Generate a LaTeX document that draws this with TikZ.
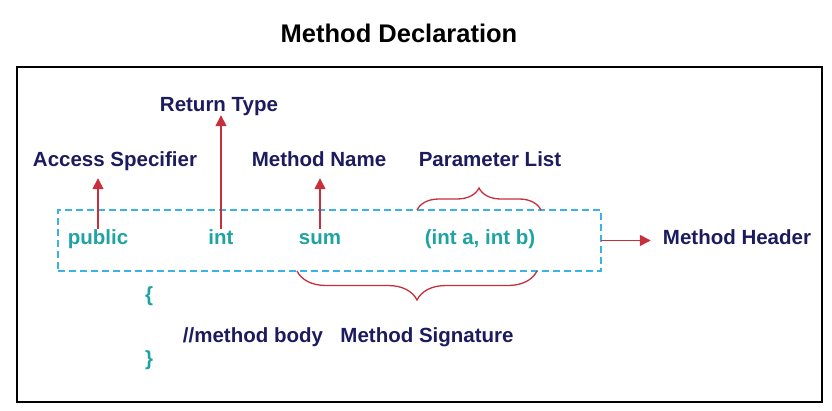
\documentclass[tikz,border=0pt]{standalone}
\usepackage{fontspec}
\setmainfont{Liberation Sans}
\usetikzlibrary{arrows.meta, decorations.pathreplacing, calc}
\definecolor{navy}{HTML}{1B1B5E}
\definecolor{arrred}{HTML}{C62F3B}
\definecolor{sky}{HTML}{3AB3E4}
\definecolor{codeteal}{HTML}{1FA3A2}

\begin{document}
\begin{tikzpicture}[x=1pt, y=-1pt, font=\bfseries\fontsize{20.5}{24}\selectfont,
	lbl/.style={text=navy, inner sep=1pt, text height=15pt, text depth=5pt, anchor=base},
	code/.style={lbl, text=codeteal},
	redarrow/.style={draw=arrred, line width=1.6pt, -{Triangle[length=11pt, width=11pt]}},
	redbrace/.style={draw=arrred, line width=1.3pt, decorate, decoration={brace, amplitude=#1}}]
	\def\boxL{58}
	\def\boxR{601}
	\def\boxT{210}
	\def\boxB{271}

	\useasboundingbox		(0,0) rectangle (832,411);
	\node[anchor=base, font=\bfseries\fontsize{25.5}{30}\selectfont]	(title) at (399,43) {Method Declaration};
	\draw[line width=2.2pt]	(17,67) rectangle (822,402);

	\node[draw=sky, line width=2.6pt, dash pattern=on 7pt off 4pt, inner sep=0pt, outer sep=0pt,
		minimum width=\boxR-\boxL, minimum height=\boxB-\boxT]	(hdr) at ({(\boxL+\boxR)/2},{(\boxT+\boxB)/2}) {};

	\node[code]		(pub) at (98,245) {public};
	\node[code]		(ret) at (221,245) {int};
	\node[code]		(name) at (320,245) {sum};
	\node[code]		(params) at (480,245) {(int a, int b)};

	\node[lbl]		(acc) at (115,167) {Access Specifier};
	\node[lbl]		(rettype) at (219,112) {Return Type};
	\node[lbl]		(mname) at (319,167) {Method Name};
	\node[lbl]		(plist) at (490,167) {Parameter List};
	\node[lbl]		(mhead) at (737,245) {Method Header};

	\draw[redarrow, shorten >=5pt]		(pub.north) -- (pub.north |- acc.south);
	\draw[redarrow, shorten >=-3pt]		(ret.north) -- (ret.north |- rettype.south);
	\draw[redarrow, shorten >=5pt]		(name.north) -- (name.north |- mname.south);
	\draw[redarrow, shorten >=11pt]		(hdr.east) -- (hdr.east -| mhead.west);

	\coordinate		(plA) at (417,\boxT);
	\coordinate		(plB) at (541,\boxT);
	\coordinate		(sgA) at (297,\boxB);
	\coordinate		(sgB) at (537,\boxB);
	\draw[redbrace=22pt]	(plA) -- (plB);
	\draw[redbrace=29pt]	(sgB) -- (sgA);

	\node[code, anchor=center]	(open) at (149,297) {\{};
	\node[code, anchor=center]	(close) at (149,360) {\}};
	\node[lbl]		(body) at (253,342) {//method body};
	\node[lbl]		(sig) at (427,342) {Method Signature};
\end{tikzpicture}
\end{document}
